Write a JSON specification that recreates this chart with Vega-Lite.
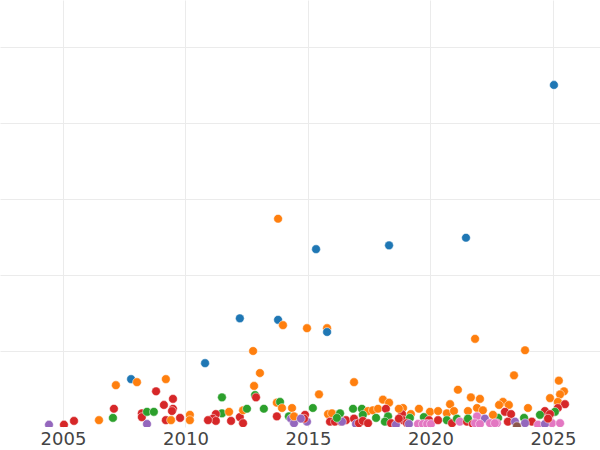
{
  "$schema": "https://vega.github.io/schema/vega-lite/v6.json",
  "width": 600,
  "height": 427,
  "padding": {"left": 0, "right": 0, "top": 0, "bottom": 23},
  "autosize": {"type": "none"},
  "background": "white",
  "config": {"view": {"stroke": null}},
  "data": {"values": [
    {"year": 2025.04, "value": 45.0, "group": "A"},
    {"year": 2013.78, "value": 27.4, "group": "B"},
    {"year": 2015.33, "value": 23.4, "group": "A"},
    {"year": 2018.31, "value": 23.9, "group": "A"},
    {"year": 2021.45, "value": 24.9, "group": "A"},
    {"year": 2012.22, "value": 14.3, "group": "A"},
    {"year": 2013.78, "value": 14.1, "group": "A"},
    {"year": 2013.98, "value": 13.4, "group": "B"},
    {"year": 2014.96, "value": 13.0, "group": "B"},
    {"year": 2015.78, "value": 13.0, "group": "B"},
    {"year": 2015.78, "value": 12.5, "group": "A"},
    {"year": 2021.82, "value": 11.6, "group": "B"},
    {"year": 2012.76, "value": 10.0, "group": "B"},
    {"year": 2023.86, "value": 10.1, "group": "B"},
    {"year": 2010.80, "value": 8.4, "group": "A"},
    {"year": 2023.41, "value": 6.8, "group": "B"},
    {"year": 2016.88, "value": 5.9, "group": "B"},
    {"year": 2007.78, "value": 6.3, "group": "A"},
    {"year": 2007.16, "value": 5.5, "group": "B"},
    {"year": 2008.02, "value": 5.9, "group": "B"},
    {"year": 2009.20, "value": 6.3, "group": "B"},
    {"year": 2013.04, "value": 7.1, "group": "B"},
    {"year": 2012.80, "value": 5.4, "group": "B"},
    {"year": 2015.45, "value": 4.3, "group": "B"},
    {"year": 2021.12, "value": 4.9, "group": "B"},
    {"year": 2025.24, "value": 6.1, "group": "B"},
    {"year": 2025.45, "value": 4.7, "group": "B"},
    {"year": 2025.29, "value": 4.3, "group": "B"},
    {"year": 2024.88, "value": 3.8, "group": "B"},
    {"year": 2025.20, "value": 3.3, "group": "B"},
    {"year": 2025.49, "value": 3.0, "group": "D"},
    {"year": 2025.20, "value": 2.5, "group": "D"},
    {"year": 2025.08, "value": 2.0, "group": "C"},
    {"year": 2023.98, "value": 2.5, "group": "B"},
    {"year": 2022.96, "value": 3.3, "group": "B"},
    {"year": 2022.80, "value": 2.9, "group": "B"},
    {"year": 2023.20, "value": 2.9, "group": "B"},
    {"year": 2023.04, "value": 2.0, "group": "D"},
    {"year": 2023.29, "value": 1.7, "group": "D"},
    {"year": 2024.67, "value": 2.1, "group": "D"},
    {"year": 2024.88, "value": 1.7, "group": "D"},
    {"year": 2024.47, "value": 1.6, "group": "C"},
    {"year": 2022.76, "value": 1.2, "group": "C"},
    {"year": 2023.82, "value": 1.2, "group": "C"},
    {"year": 2023.16, "value": 0.7, "group": "D"},
    {"year": 2024.14, "value": 0.7, "group": "D"},
    {"year": 2022.71, "value": 0.5, "group": "G"},
    {"year": 2023.45, "value": 0.7, "group": "E"},
    {"year": 2023.86, "value": 0.5, "group": "E"},
    {"year": 2023.53, "value": 0.1, "group": "F"},
    {"year": 2024.39, "value": 0.3, "group": "G"},
    {"year": 2024.96, "value": 0.5, "group": "G"},
    {"year": 2025.29, "value": 0.5, "group": "G"},
    {"year": 2024.67, "value": 0.4, "group": "E"},
    {"year": 2024.80, "value": 1.1, "group": "D"},
    {"year": 2021.65, "value": 3.9, "group": "B"},
    {"year": 2022.02, "value": 3.7, "group": "B"},
    {"year": 2020.80, "value": 3.0, "group": "B"},
    {"year": 2018.88, "value": 2.5, "group": "B"},
    {"year": 2019.53, "value": 2.4, "group": "B"},
    {"year": 2019.20, "value": 1.7, "group": "B"},
    {"year": 2019.98, "value": 2.0, "group": "B"},
    {"year": 2020.31, "value": 2.1, "group": "B"},
    {"year": 2020.67, "value": 1.8, "group": "B"},
    {"year": 2020.96, "value": 2.1, "group": "B"},
    {"year": 2021.53, "value": 2.1, "group": "B"},
    {"year": 2021.90, "value": 2.5, "group": "B"},
    {"year": 2022.14, "value": 2.2, "group": "B"},
    {"year": 2022.55, "value": 1.6, "group": "B"},
    {"year": 2018.84, "value": 1.7, "group": "D"},
    {"year": 2018.88, "value": 0.9, "group": "D"},
    {"year": 2019.16, "value": 1.2, "group": "C"},
    {"year": 2019.04, "value": 0.5, "group": "D"},
    {"year": 2019.12, "value": 0.4, "group": "E"},
    {"year": 2019.73, "value": 1.3, "group": "C"},
    {"year": 2019.94, "value": 0.9, "group": "D"},
    {"year": 2019.49, "value": 0.4, "group": "G"},
    {"year": 2019.69, "value": 0.4, "group": "G"},
    {"year": 2019.86, "value": 0.4, "group": "G"},
    {"year": 2020.02, "value": 0.4, "group": "G"},
    {"year": 2020.31, "value": 0.9, "group": "D"},
    {"year": 2020.67, "value": 0.9, "group": "C"},
    {"year": 2020.88, "value": 0.5, "group": "D"},
    {"year": 2021.08, "value": 1.1, "group": "C"},
    {"year": 2021.20, "value": 0.7, "group": "G"},
    {"year": 2021.49, "value": 0.7, "group": "D"},
    {"year": 2021.53, "value": 1.1, "group": "C"},
    {"year": 2021.90, "value": 1.4, "group": "G"},
    {"year": 2021.73, "value": 0.4, "group": "D"},
    {"year": 2021.82, "value": 0.5, "group": "G"},
    {"year": 2022.22, "value": 1.1, "group": "E"},
    {"year": 2022.02, "value": 0.4, "group": "G"},
    {"year": 2022.43, "value": 0.5, "group": "G"},
    {"year": 2022.63, "value": 0.5, "group": "G"},
    {"year": 2015.20, "value": 2.5, "group": "C"},
    {"year": 2014.88, "value": 1.6, "group": "D"},
    {"year": 2014.96, "value": 0.7, "group": "E"},
    {"year": 2015.82, "value": 1.7, "group": "B"},
    {"year": 2015.98, "value": 1.8, "group": "B"},
    {"year": 2016.31, "value": 1.8, "group": "C"},
    {"year": 2015.90, "value": 0.7, "group": "D"},
    {"year": 2016.10, "value": 0.7, "group": "D"},
    {"year": 2016.35, "value": 0.7, "group": "D"},
    {"year": 2016.55, "value": 0.9, "group": "D"},
    {"year": 2016.39, "value": 0.7, "group": "E"},
    {"year": 2016.18, "value": 1.2, "group": "C"},
    {"year": 2016.84, "value": 2.4, "group": "C"},
    {"year": 2017.20, "value": 2.4, "group": "C"},
    {"year": 2016.88, "value": 1.1, "group": "D"},
    {"year": 2016.96, "value": 0.4, "group": "E"},
    {"year": 2017.08, "value": 0.5, "group": "D"},
    {"year": 2017.45, "value": 2.1, "group": "B"},
    {"year": 2017.65, "value": 2.2, "group": "B"},
    {"year": 2017.24, "value": 1.6, "group": "C"},
    {"year": 2017.24, "value": 0.8, "group": "D"},
    {"year": 2017.45, "value": 0.5, "group": "D"},
    {"year": 2017.78, "value": 1.2, "group": "C"},
    {"year": 2017.86, "value": 2.4, "group": "B"},
    {"year": 2018.06, "value": 3.6, "group": "B"},
    {"year": 2018.31, "value": 3.2, "group": "B"},
    {"year": 2018.18, "value": 2.4, "group": "D"},
    {"year": 2018.27, "value": 1.4, "group": "C"},
    {"year": 2018.14, "value": 0.7, "group": "C"},
    {"year": 2018.39, "value": 0.5, "group": "D"},
    {"year": 2018.59, "value": 0.3, "group": "E"},
    {"year": 2018.71, "value": 2.4, "group": "B"},
    {"year": 2018.71, "value": 1.1, "group": "D"},
    {"year": 2011.49, "value": 3.9, "group": "C"},
    {"year": 2011.49, "value": 1.8, "group": "C"},
    {"year": 2011.78, "value": 2.0, "group": "B"},
    {"year": 2011.24, "value": 1.7, "group": "D"},
    {"year": 2011.12, "value": 1.1, "group": "D"},
    {"year": 2011.24, "value": 0.8, "group": "D"},
    {"year": 2011.86, "value": 0.8, "group": "D"},
    {"year": 2012.22, "value": 1.3, "group": "D"},
    {"year": 2012.35, "value": 0.5, "group": "D"},
    {"year": 2012.35, "value": 2.2, "group": "B"},
    {"year": 2012.51, "value": 2.4, "group": "C"},
    {"year": 2012.84, "value": 4.2, "group": "C"},
    {"year": 2012.88, "value": 3.9, "group": "D"},
    {"year": 2013.20, "value": 2.4, "group": "C"},
    {"year": 2013.73, "value": 3.2, "group": "B"},
    {"year": 2013.86, "value": 3.3, "group": "C"},
    {"year": 2013.94, "value": 2.5, "group": "B"},
    {"year": 2013.73, "value": 1.4, "group": "D"},
    {"year": 2014.35, "value": 2.5, "group": "B"},
    {"year": 2014.22, "value": 1.4, "group": "C"},
    {"year": 2014.31, "value": 1.1, "group": "E"},
    {"year": 2014.43, "value": 0.5, "group": "E"},
    {"year": 2014.43, "value": 1.4, "group": "B"},
    {"year": 2014.84, "value": 1.1, "group": "D"},
    {"year": 2014.71, "value": 1.1, "group": "E"},
    {"year": 2004.43, "value": 0.3, "group": "E"},
    {"year": 2005.04, "value": 0.3, "group": "D"},
    {"year": 2005.45, "value": 0.8, "group": "D"},
    {"year": 2006.47, "value": 0.9, "group": "B"},
    {"year": 2007.04, "value": 1.2, "group": "C"},
    {"year": 2007.08, "value": 2.4, "group": "D"},
    {"year": 2008.80, "value": 4.7, "group": "D"},
    {"year": 2008.22, "value": 1.8, "group": "D"},
    {"year": 2008.22, "value": 1.3, "group": "D"},
    {"year": 2008.43, "value": 2.0, "group": "C"},
    {"year": 2008.71, "value": 2.0, "group": "C"},
    {"year": 2008.43, "value": 0.4, "group": "E"},
    {"year": 2009.12, "value": 2.9, "group": "D"},
    {"year": 2009.49, "value": 3.7, "group": "D"},
    {"year": 2009.49, "value": 2.4, "group": "D"},
    {"year": 2009.45, "value": 2.1, "group": "D"},
    {"year": 2009.20, "value": 0.9, "group": "D"},
    {"year": 2009.41, "value": 0.9, "group": "B"},
    {"year": 2009.78, "value": 1.2, "group": "D"},
    {"year": 2010.18, "value": 1.6, "group": "B"},
    {"year": 2010.18, "value": 0.9, "group": "B"},
    {"year": 2010.92, "value": 0.9, "group": "D"}
  ]},
  "mark": {"type": "circle", "size": 76, "opacity": 1, "stroke": "white", "strokeWidth": 0.5, "clip": true},
  "encoding": {
    "x": {
      "field": "year", "type": "quantitative",
      "scale": {"domain": [2002.43, 2026.92], "nice": false, "zero": false},
      "axis": {
        "title": null, "values": [2005, 2010, 2015, 2020, 2025], "format": "d",
        "grid": true, "gridColor": "#ebebeb", "gridWidth": 1,
        "domain": false, "ticks": false, "labelPadding": 3,
        "labelFont": "DejaVu Sans", "labelFontSize": 18, "labelColor": "#444444"
      }
    },
    "y": {
      "field": "value", "type": "quantitative",
      "scale": {"domain": [0, 56.18], "nice": false, "zero": true},
      "axis": {
        "title": null, "values": [10, 20, 30, 40, 50],
        "grid": true, "gridColor": "#ebebeb", "gridWidth": 1,
        "domain": false, "ticks": false, "labels": false
      }
    },
    "color": {
      "field": "group", "type": "nominal", "legend": null,
      "scale": {
        "domain": ["A", "B", "C", "D", "E", "F", "G"],
        "range": ["#1f77b4", "#ff7f0e", "#2ca02c", "#d62728", "#9467bd", "#8c564b", "#e377c2"]
      }
    }
  }
}
